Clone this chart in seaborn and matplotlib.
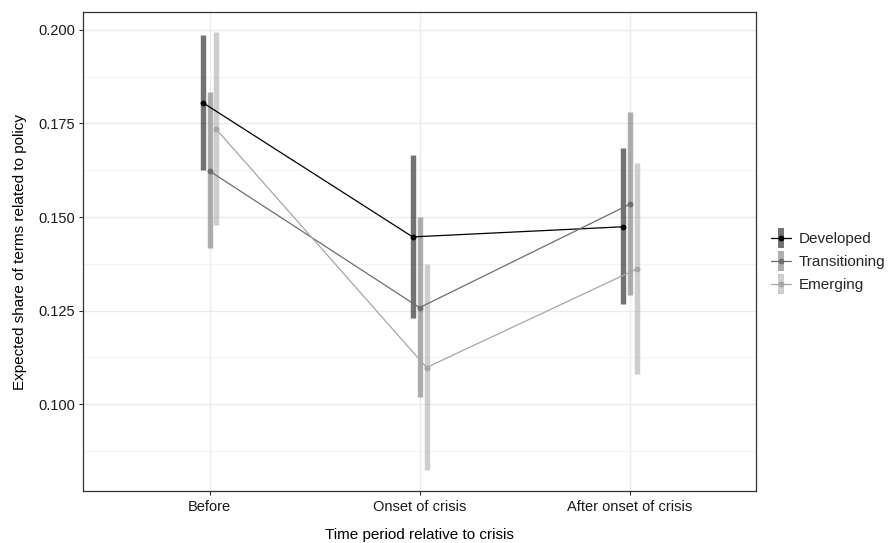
import numpy as np
import pandas as pd
import matplotlib
matplotlib.use("Agg")
import matplotlib.pyplot as plt
from matplotlib.lines import Line2D
from matplotlib.legend_handler import HandlerTuple
import seaborn as sns

# Estimated share of policy-related terms with interval bounds
periods = ["Before", "Onset of crisis", "After onset of crisis"]
groups = ["Developed", "Transitioning", "Emerging"]

developed_est = [0.1806, 0.1447, 0.1474]
developed_lo = [0.1626, 0.1231, 0.1267]
developed_hi = [0.1987, 0.1666, 0.1684]

transitioning_est = [0.1623, 0.1258, 0.1534]
transitioning_lo = [0.1416, 0.1020, 0.1291]
transitioning_hi = [0.1833, 0.1501, 0.1782]

emerging_est = [0.1734, 0.1098, 0.1361]
emerging_lo = [0.1479, 0.0825, 0.1080]
emerging_hi = [0.1994, 0.1374, 0.1645]

y_ticks = [0.100, 0.125, 0.150, 0.175, 0.200]

point_colors = {"Developed": "#000000", "Transitioning": "#6e6e6e", "Emerging": "#a6a6a6"}
bar_alpha = 0.55

rows = []
for g, est, lo, hi in [
    ("Developed", developed_est, developed_lo, developed_hi),
    ("Transitioning", transitioning_est, transitioning_lo, transitioning_hi),
    ("Emerging", emerging_est, emerging_lo, emerging_hi),
]:
    for i, p in enumerate(periods):
        rows.append({"period": p, "pos": i, "group": g, "est": est[i], "lo": lo[i], "hi": hi[i]})
df = pd.DataFrame(rows)

# dodge groups side by side around each period
dodge = {"Developed": -0.033, "Transitioning": 0.0, "Emerging": 0.033}
df["x"] = df["pos"] + df["group"].map(dodge)

sns.set_theme(style="white")
plt.rcParams["font.family"] = ["Liberation Sans", "DejaVu Sans"]

fig, ax = plt.subplots(figsize=(8.88, 5.43), dpi=100)
fig.subplots_adjust(left=0.094, right=0.851, top=0.978, bottom=0.095)

# interval ranges as thick vertical bars
for g in groups:
    sub = df[df["group"] == g]
    ax.vlines(sub["x"], sub["lo"], sub["hi"], colors=point_colors[g],
              alpha=bar_alpha, linewidth=3.9, zorder=2)

sns.lineplot(data=df, x="x", y="est", hue="group", hue_order=groups,
             palette=point_colors, marker="o", markersize=4.2, markeredgewidth=0,
             linewidth=0.9, legend=False, ax=ax, zorder=3, sort=True)

ax.set_xlim(-0.6, 2.6)
ax.set_ylim(0.0767, 0.2048)
ax.set_xticks(range(len(periods)))
ax.set_xticklabels(periods)
ax.set_yticks(y_ticks)
ax.set_yticklabels([f"{v:.3f}" for v in y_ticks])
ax.set_yticks([0.0875, 0.1125, 0.1375, 0.1625, 0.1875], minor=True)

ax.grid(True, which="major", color="#ebebeb", linewidth=1.0)
ax.grid(True, which="minor", axis="y", color="#f2f2f2", linewidth=0.6)
ax.set_axisbelow(True)
for s in ax.spines.values():
    s.set_color("#333333")
    s.set_linewidth(0.9)

ax.tick_params(axis="both", which="major", length=3, width=0.8, color="#333333",
               labelsize=10.5, labelcolor="#1a1a1a", pad=3, bottom=True, left=True)
ax.tick_params(axis="both", which="minor", length=0)

ax.set_xlabel("Time period relative to crisis", fontsize=11, color="#000000", labelpad=10)
ax.set_ylabel("Expected share of terms related to policy", fontsize=11, color="#000000", labelpad=8)

handles = []
for g in groups:
    bar = Line2D([], [], marker="|", markersize=14.5, markeredgewidth=4.3, linestyle="",
                 color=point_colors[g], alpha=bar_alpha)
    pt = Line2D([], [], marker="o", markersize=4.2, markeredgewidth=0, linestyle="-",
                linewidth=0.9, color=point_colors[g])
    handles.append((bar, pt))

leg = ax.legend(handles, groups, handler_map={tuple: HandlerTuple(ndivide=1)},
                loc="center left", bbox_to_anchor=(1.002, 0.478), frameon=False,
                fontsize=11, handlelength=1.3, labelspacing=0.6, handletextpad=0.55)

fig.savefig("out.png", dpi=100)
